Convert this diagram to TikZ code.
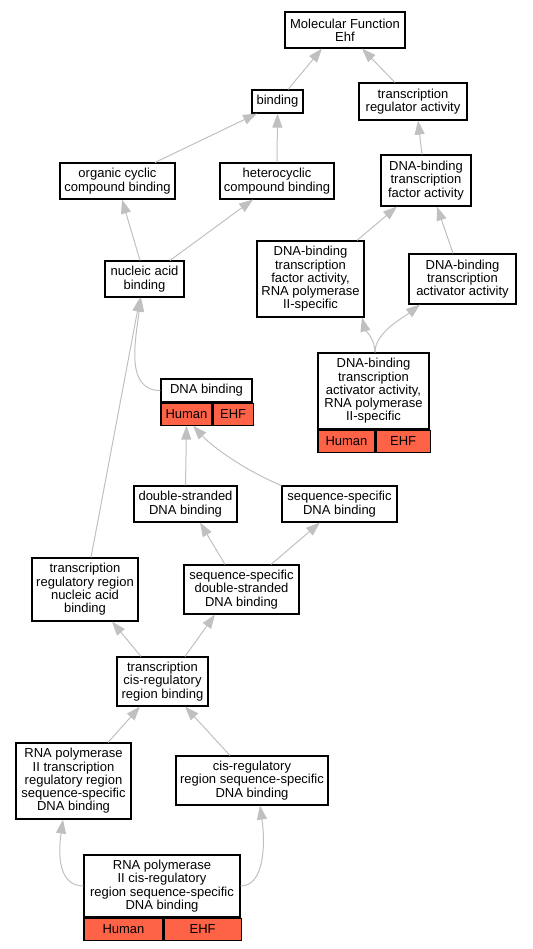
\documentclass[tikz,border=0pt]{standalone}
\usepackage{fontspec}
\setmainfont{Liberation Sans}
\usepackage{tikz}
\usetikzlibrary{arrows.meta}
\definecolor{tomato}{HTML}{FF6347}
\definecolor{edgegray}{HTML}{C0C0C0}
\tikzset{
  term/.style={draw=black, line width=1.1pt, fill=white, inner sep=0pt, align=center,
    font=\fontsize{13}{13.3}\selectfont},
  strip/.style={draw=black, line width=1.1pt, fill=tomato, inner sep=0pt, anchor=north west,
    minimum height=22pt, font=\fontsize{13}{13.3}\selectfont},
  isa/.style={draw=edgegray, line width=1pt, -{Triangle[length=14pt,width=10pt]}}
}

\begin{document}
\begin{tikzpicture}[x=1pt,y=-1pt]
\useasboundingbox (0,0) rectangle (532,949);
% terms
\node[term, minimum width=120pt, minimum height=36pt] (mf) at (345,30) {Molecular Function\\Ehf};
\node[term, minimum width=51pt, minimum height=23pt] (bind) at (277.5,101.5) {binding};
\node[term, minimum width=108pt, minimum height=37pt] (tra) at (413,101.5) {transcription\\regulator activity};
\node[term, minimum width=115pt, minimum height=36pt] (occb) at (117.5,181) {organic cyclic\\compound binding};
\node[term, minimum width=114pt, minimum height=36pt] (hccb) at (277,181) {heterocyclic\\compound binding};
\node[term, minimum width=90pt, minimum height=51pt] (dbtfa) at (426,180.5) {DNA-binding\\transcription\\factor activity};
\node[term, minimum width=79pt, minimum height=36pt] (nab) at (144.5,279) {nucleic acid\\binding};
\node[term, minimum width=107pt, minimum height=76pt] (dbtfp) at (310.5,279) {DNA-binding\\transcription\\factor activity,\\RNA polymerase\\II-specific};
\node[term, minimum width=107pt, minimum height=50pt] (dbtaa) at (462.5,279) {DNA-binding\\transcription\\activator activity};
\node[term, minimum width=111pt, minimum height=76pt] (dbtap) at (373.5,391) {DNA-binding\\transcription\\activator activity,\\RNA polymerase\\II-specific};
\node[strip, minimum width=57pt] (dbtaph) at (dbtap.south west) {Human};
\node[strip, minimum width=54pt] (dbtape) at (dbtaph.north east) {EHF};
\node[term, minimum width=91pt, minimum height=23pt] (dnab) at (206.5,390.5) {DNA binding};
\node[strip, minimum width=51pt] (dnabh) at (dnab.south west) {Human};
\node[strip, minimum width=40pt] (dnabe) at (dnabh.north east) {EHF};
\node[term, minimum width=103pt, minimum height=36pt] (dsdb) at (185.5,504) {double-stranded\\DNA binding};
\node[term, minimum width=115pt, minimum height=36pt] (ssdb) at (339.5,504) {sequence-specific\\DNA binding};
\node[term, minimum width=106pt, minimum height=63pt] (trrnab) at (85,589.5) {transcription\\regulatory region\\nucleic acid\\binding};
\node[term, minimum width=115pt, minimum height=49pt] (ssds) at (241.5,589.5) {sequence-specific\\double-stranded\\DNA binding};
\node[term, minimum width=91pt, minimum height=49pt] (tcrrb) at (162.5,681.5) {transcription\\cis-regulatory\\region binding};
\node[term, minimum width=115pt, minimum height=76pt] (rptrr) at (73.5,781) {RNA polymerase\\II transcription\\regulatory region\\sequence-specific\\DNA binding};
\node[term, minimum width=152pt, minimum height=49pt] (crss) at (252,780.5) {cis-regulatory\\region sequence-specific\\DNA binding};
\node[term, minimum width=156pt, minimum height=62pt] (rpcrs) at (162,886) {RNA polymerase\\II cis-regulatory\\region sequence-specific\\DNA binding};
\node[strip, minimum width=79pt] (rpcrsh) at (rpcrs.south west) {Human};
\node[strip, minimum width=77pt] (rpcrse) at (rpcrsh.north east) {EHF};
% is_a links
\draw[isa] ([xshift=10.5pt]bind.north) -- ([xshift=-23pt]mf.south);
\draw[isa] ([xshift=-18pt]tra.north) -- ([xshift=17pt]mf.south);
\draw[isa] ([xshift=37.5pt]occb.north) -- ([xshift=-20.5pt]bind.south);
\draw[isa] (hccb.north) -- (bind.south);
\draw[isa] ([xshift=-4pt]dbtfa.north) -- ([xshift=5pt]tra.south);
\draw[isa] ([xshift=-4.5pt]nab.north) -- ([xshift=4.5pt]occb.south);
\draw[isa] ([xshift=25.5pt]nab.north) -- ([xshift=-24pt]hccb.south);
\draw[isa] ([xshift=46.5pt]dbtfp.north) -- ([xshift=-29pt]dbtfa.south);
\draw[isa] ([xshift=-9.5pt]dbtaa.north) -- ([xshift=11pt]dbtfa.south);
\draw[isa] ([xshift=1.5pt]dbtap.north) .. controls +(0,-14) and +(3,12) .. ([xshift=51.5pt]dbtfp.south);
\draw[isa] ([xshift=1.5pt]dbtap.north) .. controls +(0,-20) and +(-18,14) .. ([xshift=-42.5pt]dbtaa.south);
\draw[isa] (dnab.west) .. controls +(-35,0) and +(-6,45) .. ([xshift=-3.5pt]nab.south);
\draw[isa] ([xshift=6pt]trrnab.north) -- ([xshift=-4.5pt]nab.south);
\draw[isa] (dsdb.north) -- (dnabh.south);
\draw[isa] (ssdb.north west) .. controls +(-30,-12) and +(22,24) .. ([xshift=6.5pt]dnabh.south);
\draw[isa] ([xshift=-16.5pt]ssds.north) -- ([xshift=14.5pt]dsdb.south);
\draw[isa] ([xshift=29.5pt]ssds.north) -- ([xshift=-19.5pt]ssdb.south);
\draw[isa] ([xshift=-21.5pt]tcrrb.north) -- ([xshift=27pt]trrnab.south);
\draw[isa] ([xshift=22.5pt]tcrrb.north) -- ([xshift=-26.5pt]ssds.south);
\draw[isa] ([xshift=34.5pt]rptrr.north) -- ([xshift=-22.5pt]tcrrb.south);
\draw[isa] ([xshift=-22pt]crss.north) -- ([xshift=22.5pt]tcrrb.south);
\draw[isa] (rpcrs.west) .. controls +(-25,0) and +(-5,35) .. ([xshift=-10.5pt]rptrr.south);
\draw[isa] (rpcrs.east) .. controls +(25,0) and +(5,35) .. ([xshift=8pt]crss.south);
\end{tikzpicture}
\end{document}
